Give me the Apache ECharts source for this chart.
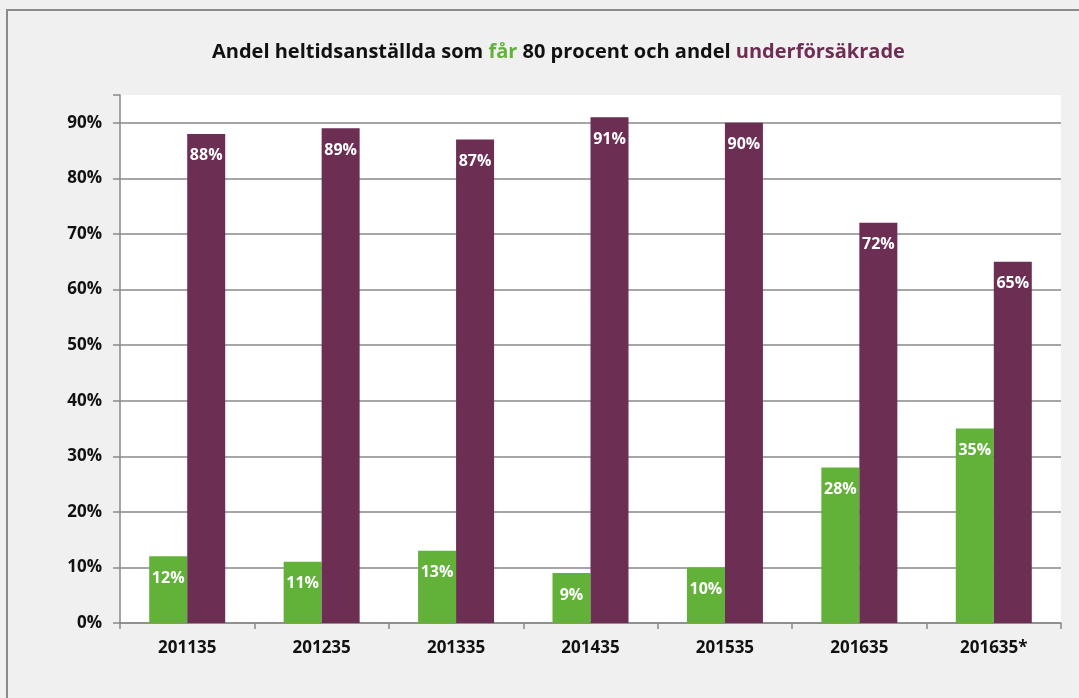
<!DOCTYPE html>
<html>
<head>
<meta charset="utf-8">
<script src="https://cdn.jsdelivr.net/npm/echarts@6/dist/echarts.min.js"></script>
<style>
  html, body { margin: 0; padding: 0; background: #f0f0f0; }
  #chart { width: 1079px; height: 698px; }
</style>
</head>
<body>
<div id="chart"></div>
<script>
// Andel heltidsanställda som får 80 procent / andel underförsäkrade (%)
const categories = ["201135", "201235", "201335", "201435", "201535", "201635", "201635*"];
const farValues = [12, 11, 13, 9, 10, 28, 35];
const underValues = [88, 89, 87, 91, 90, 72, 65];

const GREEN = "#62b23a";
const PLUM = "#6d2e53";
const GRID_GRAY = "#898989";
const FONT = "'Open Sans', 'DejaVu Sans', sans-serif";

const barLabel = {
  show: true,
  position: "insideTop",
  distance: 14,
  color: "#fff",
  fontWeight: "bold",
  fontSize: 16,
  lineHeight: 16,
  fontFamily: FONT,
  formatter: (p) => p.value + "%",
};

const chart = echarts.init(document.getElementById("chart"), null, { renderer: "canvas" });

const titleText = (c) => ({ color: c, fontSize: 20, fontWeight: "bold", fontFamily: FONT });

chart.setOption({
  backgroundColor: "#f0f0f0",
  animation: false,
  graphic: [
    {
      type: "rect",
      shape: { x: 7, y: 10, width: 1100, height: 720 },
      style: { fill: "none", stroke: "#8a8a8a", lineWidth: 2 },
      silent: true,
      z: -1,
    },
  ],
  title: {
    left: 207,
    top: 37,
    text: "{k|Andel heltidsanställda som }{g|får}{k| 80 procent och andel }{p|underförsäkrade}",
    textStyle: {
      rich: { k: titleText("#111"), g: titleText(GREEN), p: titleText(PLUM) },
    },
  },
  grid: { left: 120, right: 18, top: 95, bottom: 75, backgroundColor: "#fff", show: true, borderWidth: 0 },
  xAxis: {
    type: "category",
    data: categories,
    axisLine: { lineStyle: { color: GRID_GRAY, width: 1.5 } },
    axisTick: { show: true, length: 6, lineStyle: { color: GRID_GRAY, width: 1.5 } },
    axisLabel: { color: "#111", fontWeight: "bold", fontSize: 17, fontFamily: FONT, margin: 17 },
  },
  yAxis: {
    type: "value",
    min: 0,
    max: 95,
    interval: 10,
    axisLine: { show: true, lineStyle: { color: GRID_GRAY, width: 1.5 } },
    axisTick: { show: true, length: 7, lineStyle: { color: GRID_GRAY, width: 1.5 } },
    splitLine: { show: true, showMaxLine: false, lineStyle: { color: GRID_GRAY, width: 1.5 } },
    axisLabel: {
      color: "#111",
      fontWeight: "bold",
      fontSize: 17,
      fontFamily: FONT,
      margin: 18,
      formatter: (v) => (v > 90 ? "" : v + "%"),
    },
  },
  series: [
    {
      name: "får 80 procent",
      type: "bar",
      data: farValues,
      barWidth: 38,
      barGap: "0%",
      itemStyle: { color: GREEN },
      label: barLabel,
    },
    {
      name: "underförsäkrade",
      type: "bar",
      data: underValues,
      barWidth: 38,
      barGap: "0%",
      itemStyle: { color: PLUM },
      label: barLabel,
    },
  ],
});
</script>
</body>
</html>
